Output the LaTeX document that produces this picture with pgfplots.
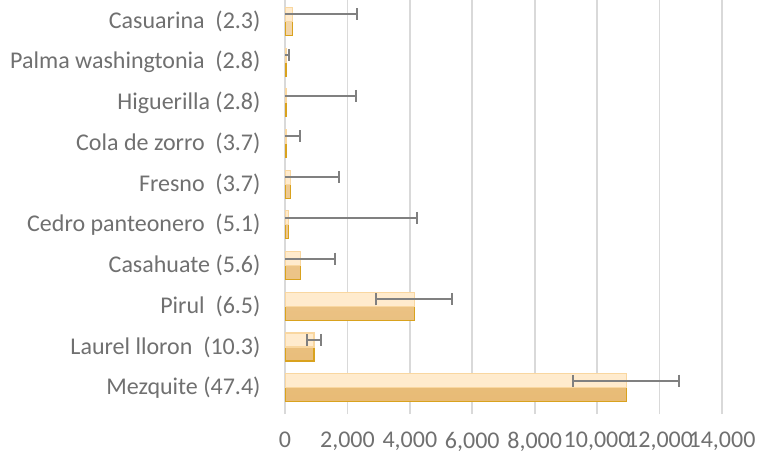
\documentclass[border=0pt]{standalone}
\usepackage{fontspec}
\setmainfont{Carlito}
\usepackage{pgfplots}
\pgfplotsset{compat=1.18}

\definecolor{lbl}{HTML}{707070}
\definecolor{gridc}{HTML}{D9D9D9}
\definecolor{errc}{HTML}{808080}
\definecolor{lightfill}{HTML}{FFEBCD}
\definecolor{lightedge}{HTML}{F9D7A0}
\definecolor{darktop}{HTML}{F3D6AA}
\definecolor{darkbot}{HTML}{E8BB76}
\definecolor{darkedge}{HTML}{D9A21E}

% y = 0 is Mezquite (bottom), y = 9 is Casuarina (top)
\pgfplotstableread{
y   val    err
0   10930  1690
1   930    235
2   4140   1210
3   500    1100
4   100    4140
5   180    1550
6   50     430
7   50     2240
8   40     80
9   235    2060
}\datatable

\begin{document}
\begin{tikzpicture}
\path[use as bounding box] (0,0) rectangle (759pt,-455pt);
\begin{axis}[
  at={(285pt,-408pt)}, anchor=south west,
  scale only axis, width=437pt, height=407pt,
  xmin=0, xmax=14000, ymin=-0.5, ymax=9.5,
  xbar, bar width=14pt,
  font=\fontsize{24}{28}\selectfont,
  axis line style={draw=none},
  xmajorgrids, grid style={gridc, line width=1.6pt},
  xtick={0,2000,4000,6000,8000,10000,12000,14000},
  xticklabels={0,{2,000},{4,000},{6,000},{8,000},{10,000},{12,000},{14,000}},
  ytick={0,1,2,3,4,5,6,7,8,9},
  yticklabels={
    Mezquite (47.4),
    Laurel lloron\ \ (10.3),
    Pirul\ \ (6.5),
    Casahuate\ (5.6),
    Cedro panteonero\ \ (5.1),
    Fresno\ \ (3.7),
    Cola de zorro\ \ (3.7),
    Higuerilla (2.8),
    Palma washingtonia\ \ (2.8),
    Casuarina\ \ (2.3)},
  tick label style={text=lbl},
  yticklabel style={xshift=-15pt},
  xticklabel style={yshift=-17pt, inner sep=1pt},
  y tick style={draw=none},
  x tick style={gridc, line width=1.6pt},
  tick align=outside, major tick length=6pt,
]
  % lower (darker) bars
  \addplot[bar shift=-7pt, top color=darktop, bottom color=darkbot,
    draw=darkedge, line width=1.1pt]
    table[x=val, y=y] {\datatable};
  % upper (lighter) bars with error bars
  \addplot[bar shift=7pt, fill=lightfill, draw=lightedge, line width=1.1pt,
    error bars/.cd, x dir=both, x explicit,
    error bar style={errc, line width=2pt},
    error mark options={errc, line width=2pt, mark size=6pt, rotate=90}]
    table[x=val, y=y, x error=err] {\datatable};
\end{axis}
\end{tikzpicture}
\end{document}
